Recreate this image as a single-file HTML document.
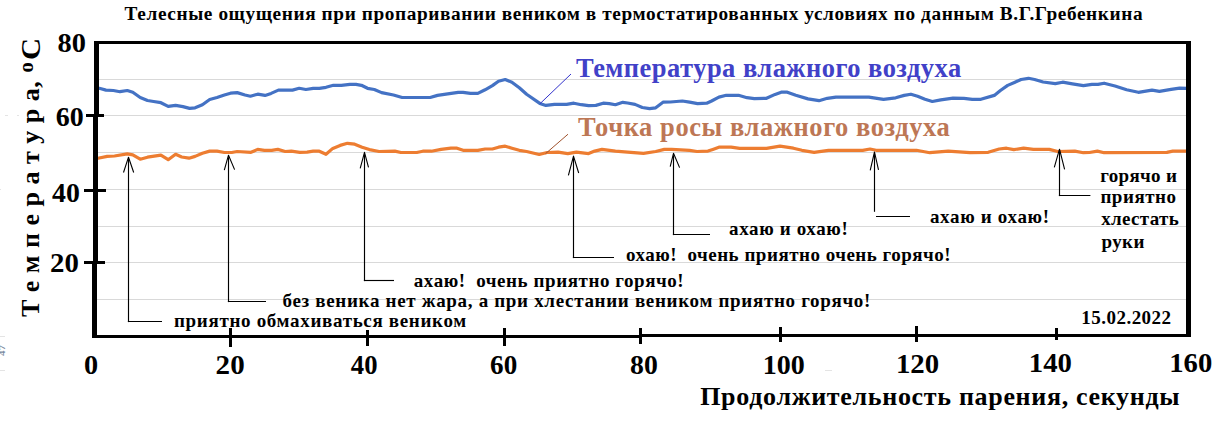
<!DOCTYPE html>
<html><head><meta charset="utf-8"><style>
html,body{margin:0;padding:0;background:#fff;overflow:hidden;}
svg{display:block;}
text{font-family:"Liberation Serif",serif;font-weight:bold;}
</style></head><body>
<svg width="1229" height="425" viewBox="0 0 1229 425">
<rect width="1229" height="425" fill="#fff"/>
<line x1="97" y1="79.5" x2="1187" y2="79.5" stroke="#d9d9d9" stroke-width="1"/>
<line x1="97" y1="115.5" x2="1187" y2="115.5" stroke="#d9d9d9" stroke-width="1"/>
<line x1="97" y1="152.5" x2="1187" y2="152.5" stroke="#d9d9d9" stroke-width="1"/>
<line x1="97" y1="189.5" x2="1187" y2="189.5" stroke="#d9d9d9" stroke-width="1"/>
<line x1="97" y1="226.5" x2="1187" y2="226.5" stroke="#d9d9d9" stroke-width="1"/>
<line x1="97" y1="262.5" x2="1187" y2="262.5" stroke="#d9d9d9" stroke-width="1"/>
<line x1="97" y1="299.5" x2="1187" y2="299.5" stroke="#d9d9d9" stroke-width="1"/>
<polyline points="95.0,88.0 99.3,88.3 106.0,90.1 113.3,90.5 120.0,91.7 127.3,90.5 132.8,92.2 140.2,97.5 147.5,100.5 153.6,101.5 160.9,102.7 168.2,106.4 175.6,105.4 182.9,106.6 189.6,108.4 195.1,107.8 202.4,104.8 209.7,99.5 217.0,97.5 224.4,95.0 230.5,93.2 237.2,92.6 245.0,95.0 250.4,96.2 257.7,94.2 265.0,95.4 271.1,93.4 278.4,90.1 292.5,90.1 299.2,88.3 305.9,89.5 313.2,88.3 319.3,88.3 326.0,87.3 333.4,85.3 341.3,85.3 349.9,84.3 356.0,84.4 361.4,85.3 367.5,88.3 374.3,89.5 381.6,92.6 393.5,95.0 402.1,97.5 430.2,97.5 437.5,95.4 446.0,94.2 458.2,92.3 463.1,92.3 470.4,93.4 477.8,93.4 485.1,89.8 492.4,85.6 498.5,81.2 505.2,79.5 511.9,82.2 519.3,87.7 526.6,94.2 539.8,103.4 545.9,105.4 554.4,104.4 566.6,104.4 573.9,103.2 581.3,104.7 588.6,105.6 595.9,105.4 603.2,103.2 609.3,103.6 615.4,104.7 622.8,102.3 627.6,103.0 635.0,104.4 642.3,107.5 649.6,108.7 655.7,107.8 663.0,102.2 670.4,102.0 682.3,101.0 689.6,102.2 697.6,103.6 706.7,103.2 711.6,101.0 718.9,97.1 726.3,95.3 738.5,95.3 747.0,97.7 754.3,98.6 766.5,98.3 775.1,94.4 781.2,92.2 787.3,92.2 795.8,95.3 808.0,98.9 819.0,100.7 827.3,98.3 835.9,97.1 868.8,97.1 883.5,99.3 895.7,97.8 904.2,95.4 910.9,94.2 917.6,96.2 925.0,99.3 932.3,101.5 940.8,99.9 953.0,98.1 964.0,98.3 972.3,99.3 980.9,99.3 994.3,95.4 1000.4,90.5 1007.7,85.4 1015.0,82.2 1021.1,79.5 1028.5,78.3 1034.6,79.5 1043.1,82.0 1055.3,83.6 1062.6,82.2 1072.4,83.8 1083.4,85.6 1091.9,84.4 1098.0,84.4 1104.1,83.2 1115.0,86.0 1126.6,89.7 1138.3,92.3 1152.0,90.2 1159.4,91.3 1171.1,89.4 1179.6,88.1 1187.0,88.4" fill="none" stroke="#4472c4" stroke-width="3.2" stroke-linejoin="round"/>
<polyline points="95.0,158.6 98.0,158.2 107.2,156.4 114.5,156.0 127.3,153.9 132.8,154.8 140.2,159.2 147.5,157.2 160.9,155.1 168.2,159.7 175.6,154.3 181.7,157.0 189.0,158.2 195.1,156.4 202.4,153.3 209.7,151.1 217.0,151.1 224.4,152.5 231.7,152.5 237.2,151.5 251.0,152.3 257.7,149.4 264.4,150.3 271.7,150.3 277.8,149.4 285.2,151.5 291.3,151.2 299.8,152.3 307.1,152.1 313.2,151.1 319.3,151.2 326.0,154.3 332.8,148.4 340.1,145.4 347.4,143.3 354.7,144.2 362.1,147.2 369.4,149.6 379.1,151.5 394.8,151.1 400.9,152.5 416.7,152.5 422.8,151.2 431.4,151.2 441.1,149.4 450.9,148.1 457.0,148.2 463.1,150.3 477.8,150.3 485.1,149.0 492.4,149.0 498.5,147.2 505.2,146.2 511.9,148.2 519.3,150.3 526.6,151.5 539.2,154.5 547.1,152.5 558.1,152.1 567.8,153.6 576.4,152.1 588.6,153.6 594.7,151.1 602.0,149.4 615.4,151.1 627.6,152.1 643.5,153.3 655.7,151.5 664.3,149.4 671.6,149.4 689.6,150.3 697.0,151.5 708.0,151.1 712.8,149.4 718.9,147.2 731.1,147.2 739.7,148.4 766.5,148.4 780.0,146.2 793.4,148.2 801.9,150.3 814.1,152.3 828.5,150.3 862.7,150.3 870.0,149.0 876.1,150.3 916.4,150.3 929.8,152.7 948.2,151.1 970.0,152.7 988.2,152.3 999.2,149.0 1006.5,148.2 1013.8,149.6 1023.6,148.2 1033.4,149.4 1049.2,149.4 1057.8,151.5 1074.8,151.1 1083.4,152.7 1089.5,152.5 1097.4,151.1 1104.1,152.7 1166.9,152.4 1172.8,151.1 1187.0,151.1" fill="none" stroke="#ed7d31" stroke-width="3.2" stroke-linejoin="round"/>
<line x1="128.5" y1="159.2" x2="128.5" y2="322.1" stroke="#000" stroke-width="1.15"/><line x1="127.9" y1="321.5" x2="162" y2="321.5" stroke="#000" stroke-width="1.15"/><polyline points="123.5,172.5 128.5,157.2 133.7,172.5" fill="none" stroke="#000" stroke-width="1.1" stroke-linejoin="round"/><line x1="228.5" y1="157.2" x2="228.5" y2="302.1" stroke="#000" stroke-width="1.15"/><line x1="227.9" y1="301.5" x2="266" y2="301.5" stroke="#000" stroke-width="1.15"/><polyline points="224.3,170.2 228.5,155.2 234.6,169.6" fill="none" stroke="#000" stroke-width="1.1" stroke-linejoin="round"/><line x1="364.5" y1="154.3" x2="364.5" y2="281.1" stroke="#000" stroke-width="1.15"/><line x1="363.9" y1="280.5" x2="394" y2="280.5" stroke="#000" stroke-width="1.15"/><polyline points="360.2,168.3 364.5,152.3 368.5,167.4" fill="none" stroke="#000" stroke-width="1.1" stroke-linejoin="round"/><line x1="573.5" y1="158.1" x2="573.5" y2="258.1" stroke="#000" stroke-width="1.15"/><line x1="572.9" y1="257.5" x2="614" y2="257.5" stroke="#000" stroke-width="1.15"/><polyline points="568.4,175.3 573.5,156.1 578.7,173" fill="none" stroke="#000" stroke-width="1.1" stroke-linejoin="round"/><line x1="673.5" y1="155.3" x2="673.5" y2="235.1" stroke="#000" stroke-width="1.15"/><line x1="672.9" y1="234.5" x2="710" y2="234.5" stroke="#000" stroke-width="1.15"/><polyline points="670.2,166.6 673.5,153.3 679.6,167.6" fill="none" stroke="#000" stroke-width="1.1" stroke-linejoin="round"/><line x1="874.5" y1="154.0" x2="874.5" y2="211.8" stroke="#000" stroke-width="1.15"/><line x1="876" y1="216.5" x2="910" y2="216.5" stroke="#000" stroke-width="1.15"/><polyline points="870.2,170.4 874.5,152.0 878.5,169.9" fill="none" stroke="#000" stroke-width="1.1" stroke-linejoin="round"/><line x1="1059.5" y1="151.2" x2="1059.5" y2="196.1" stroke="#000" stroke-width="1.15"/><line x1="1058.9" y1="195.5" x2="1090.4" y2="195.5" stroke="#000" stroke-width="1.15"/><polyline points="1054.3,167.3 1059.5,149.2 1064.6,169.4" fill="none" stroke="#000" stroke-width="1.1" stroke-linejoin="round"/>
<line x1="540" y1="103.7" x2="571" y2="74" stroke="#3333cc" stroke-width="1"/>
<line x1="545.5" y1="153.7" x2="568" y2="134.2" stroke="#a0522d" stroke-width="1"/>
<text x="124.6" y="20.1" font-size="19.3" fill="#000" textLength="1017.96" lengthAdjust="spacing" xml:space="preserve">Телесные ощущения при пропаривании веником в термостатированных условиях по данным В.Г.Гребенкина</text>
<text x="576.0" y="76.8" font-size="26.5" fill="#4141c8" textLength="385.17" lengthAdjust="spacing" xml:space="preserve">Температура влажного воздуха</text>
<text x="578.0" y="136.0" font-size="26.5" fill="#bd7755" textLength="371.73" lengthAdjust="spacing" xml:space="preserve">Точка росы влажного воздуха</text>
<text x="174.0" y="326.9" font-size="19" fill="#000" textLength="292.24" lengthAdjust="spacing" xml:space="preserve">приятно обмахиваться веником</text>
<text x="282.5" y="306.8" font-size="19" fill="#000" textLength="587.79" lengthAdjust="spacing" xml:space="preserve">без веника нет жара, а при хлестании веником приятно горячо!</text>
<text x="413.8" y="287.0" font-size="19" fill="#000" textLength="269.81" lengthAdjust="spacing" xml:space="preserve">ахаю!  очень приятно горячо!</text>
<text x="625.9" y="261.4" font-size="19" fill="#000" textLength="324.75" lengthAdjust="spacing" xml:space="preserve">охаю!  очень приятно очень горячо!</text>
<text x="729.1" y="234.7" font-size="19" fill="#000" textLength="118.74" lengthAdjust="spacing" xml:space="preserve">ахаю и охаю!</text>
<text x="929.9" y="222.5" font-size="19" fill="#000" textLength="119.24" lengthAdjust="spacing" xml:space="preserve">ахаю и охаю!</text>
<text x="1100.3" y="181.6" font-size="19" fill="#000" textLength="76.62" lengthAdjust="spacing" xml:space="preserve">горячо и</text>
<text x="1100.4" y="202.8" font-size="19" fill="#000" textLength="75.63" lengthAdjust="spacing" xml:space="preserve">приятно</text>
<text x="1101.3" y="225.4" font-size="19" fill="#000" textLength="77.42" lengthAdjust="spacing" xml:space="preserve">хлестать</text>
<text x="1101.4" y="248.2" font-size="19" fill="#000" textLength="43.02" lengthAdjust="spacing" xml:space="preserve">руки</text>
<text x="1081.2" y="323.9" font-size="19" fill="#000" textLength="89.9" lengthAdjust="spacing" xml:space="preserve">15.02.2022</text>
<text x="57.53" y="52.0" font-size="26.6" fill="#000" textLength="28.4" lengthAdjust="spacingAndGlyphs" xml:space="preserve">80</text>
<text x="55.85" y="125.8" font-size="26.6" fill="#000" textLength="27.98" lengthAdjust="spacingAndGlyphs" xml:space="preserve">60</text>
<text x="52.0" y="201.8" font-size="26.6" fill="#000" textLength="27.82" lengthAdjust="spacingAndGlyphs" xml:space="preserve">40</text>
<text x="50.02" y="271.8" font-size="26.6" fill="#000" textLength="28.83" lengthAdjust="spacingAndGlyphs" xml:space="preserve">20</text>
<text x="84.14" y="374.2" font-size="26.6" fill="#000" textLength="14.14" lengthAdjust="spacingAndGlyphs" xml:space="preserve">0</text>
<text x="215.61" y="374.2" font-size="26.6" fill="#000" textLength="29.04" lengthAdjust="spacingAndGlyphs" xml:space="preserve">20</text>
<text x="350.8" y="374.2" font-size="26.6" fill="#000" textLength="26.7" lengthAdjust="spacingAndGlyphs" xml:space="preserve">40</text>
<text x="490.08" y="373.5" font-size="26.6" fill="#000" textLength="27.13" lengthAdjust="spacingAndGlyphs" xml:space="preserve">60</text>
<text x="630.06" y="373.5" font-size="26.6" fill="#000" textLength="27.76" lengthAdjust="spacingAndGlyphs" xml:space="preserve">80</text>
<text x="762.69" y="373.6" font-size="26.6" fill="#000" textLength="42.05" lengthAdjust="spacingAndGlyphs" xml:space="preserve">100</text>
<text x="895.93" y="372.6" font-size="26.6" fill="#000" textLength="43.23" lengthAdjust="spacingAndGlyphs" xml:space="preserve">120</text>
<text x="1028.84" y="372.2" font-size="26.6" fill="#000" textLength="43.12" lengthAdjust="spacingAndGlyphs" xml:space="preserve">140</text>
<text x="1169.24" y="372.2" font-size="26.6" fill="#000" textLength="43.02" lengthAdjust="spacingAndGlyphs" xml:space="preserve">160</text>
<text x="700.2" y="404.8" font-size="26" fill="#000" textLength="479.41" lengthAdjust="spacing" xml:space="preserve">Продолжительность парения, секунды</text>
<g fill="#e4e4e4" shape-rendering="crispEdges">
<rect x="5" y="115" width="3" height="1"/><rect x="17" y="115" width="2" height="1"/>
<rect x="0" y="189" width="1" height="1"/>
<rect x="0" y="336" width="5" height="1"/><rect x="825" y="370" width="7" height="1"/><rect x="0" y="370" width="5" height="1"/>
</g>
<g fill="#000" shape-rendering="crispEdges">
<rect x="94" y="41" width="1097" height="3"/>
<rect x="1186" y="41" width="5" height="296"/>
<rect x="94" y="41" width="5" height="74"/>
<rect x="93" y="114" width="5" height="148"/>
<rect x="92" y="262" width="5" height="76"/>
<rect x="92" y="335" width="550" height="3"/>
<rect x="642" y="334" width="549" height="3"/>
<rect x="86" y="114" width="18" height="3"/>
<rect x="84" y="189" width="22" height="3"/>
<rect x="84" y="261" width="21" height="3"/>
<rect x="229" y="328" width="3" height="19"/>
<rect x="366" y="330" width="3" height="16"/>
<rect x="503" y="328" width="3" height="18"/>
<rect x="639" y="328" width="3" height="16"/>
<rect x="779" y="327" width="3" height="15"/>
<rect x="915" y="326" width="3" height="16"/>
<rect x="1055" y="328" width="3" height="12"/>
</g>
<text transform="translate(4.5,356) rotate(-90)" font-size="8.5" font-weight="normal" fill="#7a8aa0" textLength="11" lengthAdjust="spacingAndGlyphs">47</text>
<text transform="translate(38.8,317) rotate(-90)" font-size="26" textLength="235.7" lengthAdjust="spacing" xml:space="preserve">Т е м п е р а т у р а,</text>
<text transform="translate(33.1,72.4) rotate(-90)" font-size="21" textLength="10.2" lengthAdjust="spacingAndGlyphs">о</text>
<text transform="translate(39.6,60.1) rotate(-90)" font-size="26.5" textLength="22.1" lengthAdjust="spacingAndGlyphs">С</text>
</svg>
</body></html>
